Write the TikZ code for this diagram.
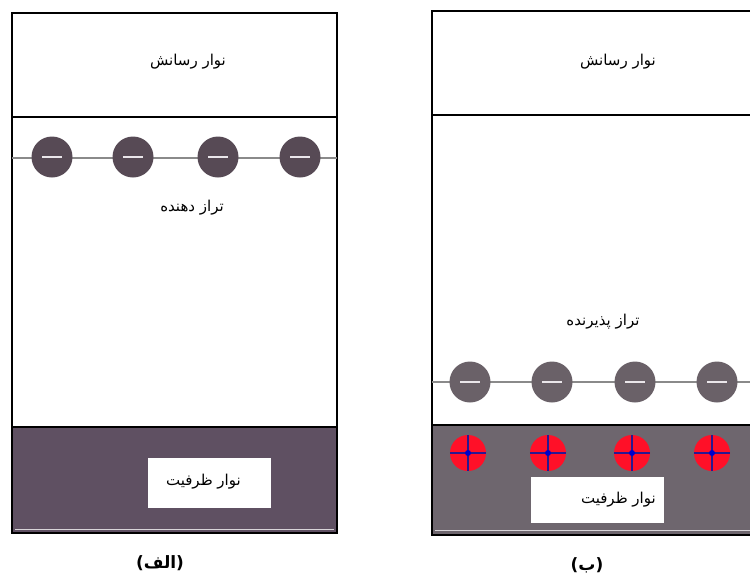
\documentclass[tikz,border=0pt]{standalone}
\usepackage{fontspec}
\TeXXeTstate=1
\newfontfamily\arabicfont[Script=Arabic]{DejaVu Sans}
\definecolor{bandmauve}{HTML}{5F5062}
\definecolor{bandgrey}{HTML}{6E666E}
\definecolor{eleft}{HTML}{574A55}
\definecolor{eright}{HTML}{6A6168}
\definecolor{levelline}{HTML}{8A8A8A}
\definecolor{holered}{HTML}{FF1028}
\definecolor{holeblue}{HTML}{2A1890}
\definecolor{innerline}{HTML}{D8D4D8}
\definecolor{minusbar}{HTML}{EAE6EA}
\tikzset{
  frame/.style={draw=black, line width=1.6pt},
  levelstyle/.style={draw=levelline, line width=1.5pt},
  electron/.style={circle, inner sep=0pt, minimum size=41pt, fill=#1,
    path picture={\fill[minusbar] ([xshift=-10pt,yshift=-1.3pt]path picture bounding box.center) rectangle ++(20pt,2.6pt);}},
  hole/.style={circle, inner sep=0pt, minimum size=36pt, fill=holered,
    path picture={
      \draw[holeblue, line width=1.3pt] ([xshift=-18pt]path picture bounding box.center) -- ++(36pt,0pt);
      \draw[holeblue, line width=1.3pt] ([yshift=-18pt]path picture bounding box.center) -- ++(0pt,36pt);
      \fill[blue!80!black] (path picture bounding box.center) circle (3pt);}},
  bandtext/.style={font=\arabicfont\fontsize{15}{18}\selectfont, inner sep=1pt},
  labelbox/.style={fill=white, draw=none, inner sep=0pt},
  caption/.style={font=\arabicfont\bfseries\fontsize{17}{20}\selectfont}
}
\begin{document}
\begin{tikzpicture}[x=1pt, y=-1pt]
  \useasboundingbox (0,0) rectangle (750,582);
  \fill[white] (0,0) rectangle (750,582);
  \clip (0,0) rectangle (750,582);

  % ---------- panel (a): donor level ----------
  \fill[bandmauve] (12,427) rectangle (337,533);
  \draw[innerline, line width=0.8pt] (15,529) -- (334,529);
  \draw[frame] (12,13) rectangle (337,533);
  \draw[frame] (12,117) -- (337,117);
  \draw[frame] (12,427) -- (337,427);
  \draw[levelstyle] (12,158) -- (337,158);
  \foreach \i/\x in {1/52, 2/133, 3/218, 4/300}
    \node[electron=eleft] (dA\i) at (\x,157) {};

  \node[bandtext] (condA) at (188,62) {\beginR نوار رسانش\endR};
  \node[bandtext] (donor) at (192,208) {\beginR تراز دهنده\endR};
  \node[labelbox, minimum width=123pt, minimum height=50pt] (valboxA) at (209.5,483) {};
  \node[bandtext, anchor=east] (valA) at (242,482) {\beginR نوار ظرفیت\endR};
  \node[caption] (capA) at (160,563) {\beginR (الف)\endR};

  % ---------- panel (b): acceptor level ----------
  \fill[bandgrey] (432,425) rectangle (752,535);
  \draw[innerline, line width=0.8pt] (435,530) -- (752,530);
  \draw[frame] (752,11) -- (432,11) -- (432,535) -- (752,535);
  \draw[frame] (432,115) -- (752,115);
  \draw[frame] (432,425) -- (752,425);
  \draw[levelstyle] (432,382) -- (752,382);
  \foreach \i/\x in {1/470, 2/552, 3/635, 4/717}
    \node[electron=eright] (aB\i) at (\x,382) {};
  \foreach \i/\x in {1/468, 2/548, 3/632, 4/712}
    \node[hole] (hB\i) at (\x,453) {};

  \node[bandtext] (condB) at (618,62) {\beginR نوار رسانش\endR};
  \node[bandtext] (acceptor) at (603,322) {\beginR تراز پذیرنده\endR};
  \node[labelbox, minimum width=133pt, minimum height=46pt] (valboxB) at (597.5,500) {};
  \node[bandtext, anchor=east] (valB) at (657,500) {\beginR نوار ظرفیت\endR};
  \node[caption] (capB) at (587,565) {\beginR (ب)\endR};
\end{tikzpicture}
\end{document}
